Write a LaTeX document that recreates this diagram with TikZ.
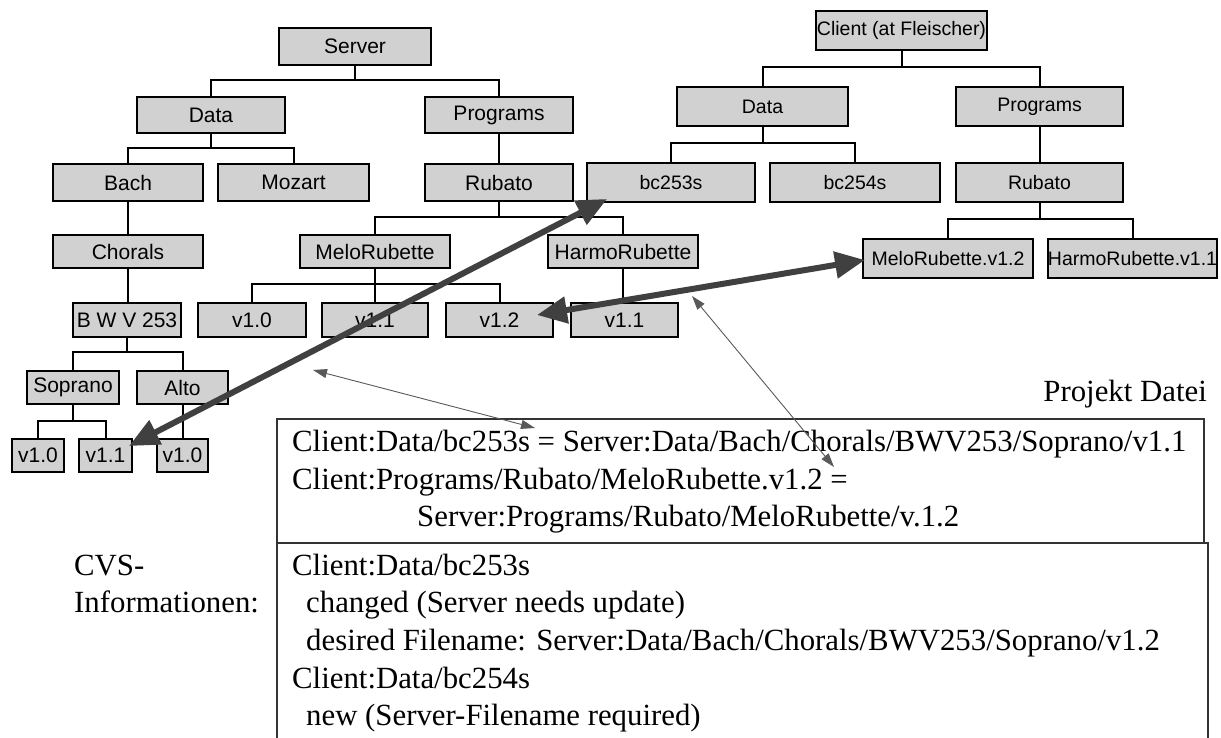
\documentclass[tikz,border=0pt]{standalone}
\usepackage{fontspec}
\setmainfont{Liberation Serif}
\newfontfamily\boxfont{Liberation Sans}
\usetikzlibrary{arrows.meta}
\definecolor{boxgray}{gray}{0.82}
\definecolor{arrowgray}{gray}{0.25}
\definecolor{thingray}{gray}{0.35}
\tikzset{
  fbox/.style={draw=black, line width=2.2pt, fill=boxgray, inner sep=0pt,
    font=\boxfont\fontsize{21}{25}\selectfont},
  cbox/.style={fbox, font=\boxfont\fontsize{19.5}{23}\selectfont},
  tree/.style={line width=2pt, draw=black},
  bigarrow/.style={line width=6pt, draw=arrowgray,
    {Triangle[length=30pt,width=26pt,fill=arrowgray]}-{Triangle[length=30pt,width=26pt,fill=arrowgray]}},
  thinarrow/.style={line width=0.9pt, draw=thingray,
    {Triangle[length=14pt,width=9pt,fill=thingray]}-{Triangle[length=14pt,width=9pt,fill=thingray]}},
  serif/.style={inner sep=0pt, font=\fontsize{30.8}{36}\selectfont, anchor=base west},
  txtbox/.style={line width=1.2pt, draw=black!80},
}
\begin{document}
\begin{tikzpicture}[x=1pt, y=-1pt]
\useasboundingbox (0,0) rectangle (1221,738);
% ---------- Server tree ----------
\node[fbox, minimum width=152pt, minimum height=37pt] (server) at (355,46.5) {Server};
\node[fbox, minimum width=148pt, minimum height=36pt] (sdata) at (211,115) {Data};
\node[fbox, minimum width=148pt, minimum height=36pt] (sprog) at (499,115) {Programs};
\node[fbox, minimum width=150pt, minimum height=37pt] (bach) at (128,182.5) {Bach};
\node[fbox, minimum width=151pt, minimum height=37pt] (mozart) at (293.5,182.5) {Mozart};
\node[fbox, minimum width=148pt, minimum height=37pt] (rubato) at (499,182.5) {Rubato};
\node[fbox, minimum width=150pt, minimum height=33pt] (chorals) at (128,251.5) {Chorals};
\node[fbox, minimum width=150pt, minimum height=33pt] (melo) at (375,251.5) {MeloRubette};
\node[fbox, minimum width=150pt, minimum height=33pt] (harmo) at (623,251.5) {HarmoRubette};
\node[fbox, minimum width=108pt, minimum height=34pt] (bwv) at (127,320) {B W V 253};
\node[fbox, minimum width=108pt, minimum height=34pt] (m10) at (252,320) {v1.0};
\node[fbox, minimum width=106pt, minimum height=34pt] (m11) at (375,320) {v1.1};
\node[fbox, minimum width=107pt, minimum height=34pt] (m12) at (499.5,320) {v1.2};
\node[fbox, minimum width=107pt, minimum height=34pt] (h11) at (624.5,320) {v1.1};
\node[fbox, minimum width=92pt, minimum height=33pt] (soprano) at (73,387.5) {Soprano};
\node[fbox, minimum width=91pt, minimum height=33pt] (alto) at (182.5,387.5) {Alto};
\node[fbox, minimum width=52pt, minimum height=33pt] (sv10) at (38,455.5) {v1.0};
\node[fbox, minimum width=53pt, minimum height=33pt] (sv11) at (105.5,455.5) {v1.1};
\node[fbox, minimum width=51pt, minimum height=33pt] (av10) at (182.5,455.5) {v1.0};
% ---------- Client tree ----------
\node[cbox, minimum width=171pt, minimum height=39pt] (client) at (901.5,30.5) {Client (at Fleischer)};
\node[cbox, minimum width=171pt, minimum height=39pt] (cdata) at (762.5,106.5) {Data};
\node[cbox, minimum width=167pt, minimum height=39pt] (cprog) at (1039.5,106.5) {Programs};
\node[cbox, minimum width=168pt, minimum height=39pt] (bc253) at (671,182.5) {bc253s};
\node[cbox, minimum width=170pt, minimum height=39pt] (bc254) at (855,182.5) {bc254s};
\node[cbox, minimum width=167pt, minimum height=39pt] (crub) at (1039.5,182.5) {Rubato};
\node[cbox, minimum width=170pt, minimum height=39pt] (cmelo) at (948,258.5) {MeloRubette.v1.2};
\node[cbox, minimum width=169pt, minimum height=39pt] (charmo) at (1132.5,258.5) {HarmoRubette.v1.1};
% ---------- tree connectors ----------
\draw[tree] (server.south) -- (server.south |- 0,80);
\draw[tree] (sdata.north) -- (sdata.north |- 0,80) -- (sprog.north |- 0,80) -- (sprog.north);
\draw[tree] (sdata.south) -- (sdata.south |- 0,148);
\draw[tree] (bach.north) -- (bach.north |- 0,148) -- (mozart.north |- 0,148) -- (mozart.north);
\draw[tree] (bach.south) -- (chorals.north);
\draw[tree] (chorals.south) -- (chorals.south |- bwv.north);
\draw[tree] (bwv.south) -- (bwv.south |- 0,352);
\draw[tree] (soprano.north) -- (soprano.north |- 0,352) -- (alto.north |- 0,352) -- (alto.north);
\draw[tree] (soprano.south) -- (soprano.south |- 0,421);
\draw[tree] (sv10.north) -- (sv10.north |- 0,421) -- (sv11.north |- 0,421) -- (sv11.north);
\draw[tree] (alto.south) -- (alto.south |- av10.north);
\draw[tree] (sprog.south) -- (rubato.north);
\draw[tree] (rubato.south) -- (rubato.south |- 0,217);
\draw[tree] (melo.north) -- (melo.north |- 0,217) -- (harmo.north |- 0,217) -- (harmo.north);
\draw[tree] (melo.south) -- (m11.north);
\draw[tree] (m10.north) -- (m10.north |- 0,284) -- (m12.north |- 0,284) -- (m12.north);
\draw[tree] (harmo.south) -- (harmo.south |- h11.north);
\draw[tree] (client.south) -- (client.south |- 0,67);
\draw[tree] (cdata.north) -- (cdata.north |- 0,67) -- (cprog.north |- 0,67) -- (cprog.north);
\draw[tree] (cdata.south) -- (cdata.south |- 0,143);
\draw[tree] (bc253.north) -- (bc253.north |- 0,143) -- (bc254.north |- 0,143) -- (bc254.north);
\draw[tree] (cprog.south) -- (crub.north);
\draw[tree] (crub.south) -- (crub.south |- 0,219);
\draw[tree] (cmelo.north) -- (cmelo.north |- 0,219) -- (charmo.north |- 0,219) -- (charmo.north);
% ---------- text boxes ----------
\draw[txtbox] (277,419) rectangle (1204,543);
\draw[txtbox] (277,745) -- (277,543) -- (1208,543) -- (1208,745);
\node[inner sep=0pt, font=\fontsize{30.8}{36}\selectfont, anchor=base east] (projekt) at (1207,401) {Projekt Datei};
\node[serif] (p1) at (292,451) {Client:Data/bc253s = Server:Data/Bach/Chorals/BWV253/Soprano/v1.1};
\node[serif] (p2) at (292,489) {Client:Programs/Rubato/MeloRubette.v1.2 =};
\node[serif] (p3) at (417,526) {Server:Programs/Rubato/MeloRubette/v.1.2};
\node[serif] (cvs1) at (74,575) {CVS-};
\node[serif] (cvs2) at (74,612) {Informationen:};
\node[serif] (c1) at (292,575) {Client:Data/bc253s};
\node[serif] (c2) at (306,612) {changed (Server needs update)};
\node[serif] (c3) at (306,650) {desired Filename: Server:Data/Bach/Chorals/BWV253/Soprano/v1.2};
\node[serif] (c4) at (292,688) {Client:Data/bc254s};
\node[serif] (c5) at (306,725) {new (Server-Filename required)};
% ---------- arrows ----------
\coordinate (a1s) at (607,199);
\coordinate (a1e) at (129,446);
\coordinate (a2s) at (537,315);
\coordinate (a2e) at (865,260);
\coordinate (t1s) at (313,370);
\coordinate (t1e) at (535,428);
\coordinate (t2s) at (692,296);
\coordinate (t2e) at (834,467);
\draw[thinarrow] (t1s) -- (t1e);
\draw[thinarrow] (t2s) -- (t2e);
\draw[bigarrow] (a1s) -- (a1e);
\draw[bigarrow] (a2s) -- (a2e);
\end{tikzpicture}
\end{document}
